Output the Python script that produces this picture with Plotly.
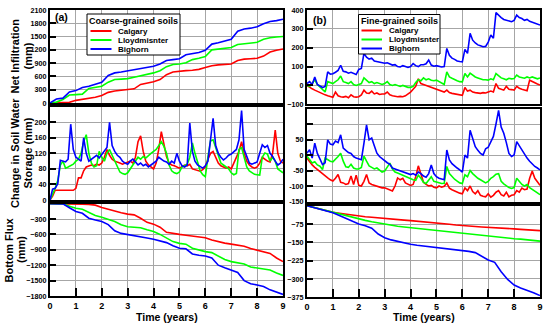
import plotly.graph_objects as go

W, H = 550, 325
FONT = "Arial, Liberation Sans, sans-serif"

# ---------------- data ----------------
series_names = ["Calgary", "Lloydmisnter", "Bighorn"]
series_colors = ["#ff0000", "#00ff00", "#0000ff"]

t10 = [round(i * 0.1, 1) for i in range(91)]     # sampling grid (years)
t25 = [i * 0.25 for i in range(37)]

# (a) Net infiltration, coarse-grained soils (mm)
tl_red = [0, 0, 5, 15, 60, 80, 100, 130, 170, 240, 270, 290, 300, 320, 420, 450, 480, 530, 640, 700,
          720, 730, 740, 760, 800, 840, 860, 870, 880, 960, 990, 1000, 1010, 1060, 1150, 1190, 1220]
tl_green = [0, 20, 80, 180, 190, 200, 330, 360, 380, 470, 530, 540, 550, 580, 610, 640, 680, 730, 820, 870,
            880, 910, 980, 1010, 1050, 1200, 1220, 1240, 1255, 1320, 1340, 1360, 1370, 1440, 1475, 1490, 1500]
tl_blue = [0, 90, 110, 250, 280, 350, 380, 430, 470, 620, 680, 700, 725, 750, 780, 800, 830, 880, 960, 980,
           1000, 1090, 1110, 1140, 1190, 1330, 1360, 1400, 1440, 1620, 1670, 1690, 1720, 1790, 1840, 1860, 1890]

# (b) Net infiltration, fine-grained soils (mm)
tr_red = [0, -10, -18, -25, -32, -38, -45, -50, -55, -60,
          -63, -35, -55, -60, -62, -58, -65, -50, -60, -62,
          -60, -50, -25, -40, -42, -30, -45, -40, -48, -45,
          -45, -35, -50, -55, -58, -60, -58, -60, -55, -45,
          -35, -20, -5, 35, 10, 5, 0, -5, -10, -15,
          -20, -25, -30, -35, -25, -38, -42, -45, -48, -50,
          -52, -11, -30, -25, -35, -38, -40, -42, -38, -40,
          -35, -30, -35, 10, -15, -20, -25, -5, -20, -22,
          -25, -5, -15, -20, -25, -28, 28, 20, 15, 8,
          2]
tr_green = [0, -5, 10, 30, 5, -10, -20, -35, 20, 15,
            10, 20, 30, 50, 20, 15, 10, 20, 5, 0,
            5, 10, 40, 25, 15, 20, 10, 15, 10, 5,
            10, 20, 5, 0, 5, 0, -5, 0, -5, -10,
            -10, -5, 15, 30, 25, 40, 30, 35, 28, 25,
            28, 20, 10, 5, 72, 45, 38, 30, 25, 20,
            19, 63, 45, 65, 55, 45, 40, 35, 30, 30,
            28, 35, 30, 63, 50, 40, 35, 30, 38, 35,
            37, 55, 45, 40, 38, 45, 40, 45, 38, 35,
            40]
tr_blue = [10, 20, 5, 45, 5, -5, -11, -5, 72, 60,
           62, 70, 80, 107, 75, 72, 65, 70, 62, 58,
           85, 90, 170, 150, 140, 145, 130, 128, 125, 120,
           118, 120, 112, 108, 110, 100, 98, 105, 100, 95,
           100, 116, 105, 100, 110, 110, 115, 135, 108, 102,
           105, 100, 98, 100, 196, 160, 145, 138, 130, 127,
           125, 191, 170, 276, 240, 225, 215, 210, 205, 207,
           230, 267, 250, 386, 370, 360, 350, 345, 340, 338,
           345, 373, 360, 355, 345, 350, 340, 335, 330, 325,
           320]

# Change in soil water storage, coarse (mm)
ml_red = [0, 10, 25, 25, 25, 25, 25, 25, 25, 25,
          30, 57, 57, 75, 85, 88, 90, 88, 92, 90,
          95, 110, 130, 115, 105, 100, 98, 95, 92, 95,
          98, 100, 95, 110, 150, 165, 125, 100, 90, 85,
          80, 95, 130, 176, 140, 112, 95, 90, 88, 84,
          82, 86, 90, 88, 92, 80, 78, 76, 74, 78,
          85, 105, 120, 125, 110, 95, 88, 85, 82, 85,
          80, 95, 110, 125, 150, 120, 100, 90, 85, 82,
          85, 95, 110, 105, 100, 98, 120, 180, 120, 100,
          95]
ml_green = [0, 15, 30, 50, 90, 100, 82, 85, 88, 92,
            100, 105, 120, 150, 168, 120, 95, 85, 88, 125,
            110, 100, 120, 130, 115, 100, 85, 72, 68, 66,
            70, 80, 88, 100, 110, 105, 112, 108, 115, 120,
            125, 130, 140, 150, 138, 120, 90, 75, 70, 68,
            72, 85, 88, 92, 110, 147, 120, 95, 75, 65,
            60, 110, 152, 155, 135, 110, 95, 90, 85, 80,
            70, 65, 68, 130, 135, 110, 85, 75, 70, 66,
            65, 64, 110, 121, 118, 100, 110, 100, 80, 74,
            70]
ml_blue = [0, 28, 30, 42, 102, 100, 98, 105, 195, 130,
           110, 105, 100, 160, 120, 100, 105, 110, 115, 108,
           118, 125, 135, 200, 140, 125, 115, 110, 100, 95,
           92, 100, 105, 98, 90, 95, 88, 92, 85, 90,
           95, 100, 110, 105, 100, 98, 92, 100, 95, 120,
           100, 88, 85, 90, 198, 125, 100, 90, 85, 82,
           88, 100, 155, 210, 140, 120, 110, 103, 108, 115,
           118, 125, 130, 155, 230, 130, 110, 95, 92, 95,
           98, 120, 142, 135, 140, 120, 112, 100, 90, 95,
           105]

# Change in soil water storage, fine (mm)
mr_red = [-10, -22, -32, -40, -47, -55, -62, -70, -74, -80,
          -84, -75, -63, -88, -90, -95, -92, -68, -95, -65,
          -98, -100, -85, -63, -90, -95, -98, -100, -104, -106,
          -106, -110, -113, -116, -100, -74, -80, -75, -90, -95,
          -98, -95, -70, -35, -60, -88, -95, -100, -98, -104,
          -106, -100, -104, -101, -90, -107, -112, -116, -120, -123,
          -125, -106, -115, -100, -118, -125, -115, -130, -133, -135,
          -125, -136, -130, -120, -115, -128, -132, -120, -135, -130,
          -128, -115, -120, -107, -112, -110, -75, -52, -75, -88,
          -98]
mr_green = [-4, -15, -26, -22, -32, -36, -47, -10, -15, -20,
            -22, -15, -5, 6, -20, -38, -40, -30, -42, -45,
            -45, -40, -4, -20, -35, -40, -45, -42, -50, -55,
            -52, -40, -26, -45, -55, -58, -62, -66, -70, -74,
            -78, -80, -82, -65, -75, -88, -92, -80, -70, -85,
            -88, -90, -92, -91, -37, -60, -70, -78, -84, -90,
            -92, -64, -70, -50, -60, -68, -75, -80, -86, -90,
            -85, -75, -70, -62, -60, -85, -93, -100, -105, -108,
            -105, -75, -85, -95, -100, -95, -105, -110, -115, -122,
            -128]
mr_blue = [6, 17, -10, 38, 5, -15, -31, -25, 49, 35,
           33, 45, 40, 65, 22, 15, 8, 5, -5, -10,
           -12, -15, 38, 97, 49, 55, 30, 6, -5, -12,
           -20, -25, -30, -42, -45, -48, -52, -55, -57, -60,
           -63, -60, -65, -55, -60, -68, -72, -60, -32, -60,
           -70, -75, -78, -80, 16, -16, -28, -36, -42, -48,
           -55, 0, -10, 80, 50, 27, 15, 5, 0, 20,
           25, 43, 60, 100, 144, 90, 70, 40, 5, -5,
           0, 43, 30, 15, 0, -10, -20, -30, -37, -42,
           -48]

# Bottom flux, coarse (mm)
bl_red = [0, 0, 0, -5, -8, -10, -15, -30, -75, -115, -150, -180, -205, -220, -285, -365, -400, -460, -560,
          -585, -600, -615, -630, -645, -665, -710, -745, -770, -790, -805, -830, -875, -905, -930, -970,
          -1060, -1130]
bl_green = [0, 0, -5, -50, -92, -110, -175, -230, -265, -300, -350, -410, -450, -460, -470, -510, -545, -600,
            -675, -740, -775, -790, -870, -910, -935, -955, -1030, -1090, -1130, -1150, -1175, -1235, -1260,
            -1275, -1295, -1350, -1400]
bl_blue = [0, 0, -5, -80, -155, -190, -285, -320, -350, -410, -530, -580, -600, -625, -645, -670, -695, -725,
           -760, -820, -870, -880, -980, -1005, -1020, -1060, -1200, -1250, -1290, -1340, -1500, -1560, -1585,
           -1615, -1680, -1730, -1770]

# Bottom flux, fine (mm)
br_red = [0, -7, -14, -21, -27, -31, -35, -39, -42, -45, -47, -50, -52, -54, -57, -59, -61, -63, -65, -67,
          -70, -73, -76, -79, -82, -84, -85, -87, -88, -90, -92, -93, -95, -97, -99, -100, -102]
br_green = [0, -7, -14, -21, -27, -35, -42, -48, -54, -60, -66, -71, -76, -80, -84, -87, -90, -93, -96, -99,
            -102, -105, -108, -110, -113, -116, -119, -121, -124, -127, -130, -132, -135, -137, -140, -142, -145]
br_blue = [0, -7, -14, -21, -29, -40, -52, -64, -75, -82, -92, -116, -131, -140, -147, -153, -158, -162, -165,
           -169, -172, -175, -178, -181, -184, -187, -192, -206, -222, -232, -270, -302, -325, -337, -345,
           -356, -368]

x_ticks = list(range(10))
tl_ticks = [0, 300, 600, 900, 1200, 1500, 1800, 2100]
ml_ticks = [0, 40, 80, 120, 160, 200]
bl_ticks = [-1800, -1500, -1200, -900, -600, -300]
tr_ticks = [-100, 0, 100, 200, 300, 400]
mr_ticks = [-150, -100, -50, 0, 50, 100]
mr_text = ["-150", "-100", "-50", "0", "50", ""]
br_ticks = [-375, -300, -225, -150, -75]

# ---------------- figure ----------------
def px_x(p):
    return p / W

def px_y(p):
    return 1 - p / H

panels = [
    ("x", "y", (50, 283), (10, 103), t25, [tl_red, tl_green, tl_blue], [0, 2100], tl_ticks, None, False),
    ("x2", "y2", (307, 540), (10, 104.3), t10, [tr_red, tr_green, tr_blue], [-100, 400], tr_ticks, None, False),
    ("x3", "y3", (50, 283), (106.7, 200), t10, [ml_red, ml_green, ml_blue], [0, 240], ml_ticks, None, False),
    ("x4", "y4", (307, 540), (108.5, 201.5), t10, [mr_red, mr_green, mr_blue], [-150, 150], mr_ticks, mr_text, False),
    ("x5", "y5", (50, 283), (203.6, 296), t25, [bl_red, bl_green, bl_blue], [-1800, 0], bl_ticks, None, True),
    ("x6", "y6", (307, 540), (205.7, 297.3), t25, [br_red, br_green, br_blue], [-375, 0], br_ticks, None, True),
]

fig = go.Figure()
layout = dict(
    width=W, height=H,
    margin=dict(l=0, r=0, t=0, b=0),
    paper_bgcolor="white", plot_bgcolor="white",
    showlegend=False,
    font=dict(family=FONT, color="black"),
    template="none",
)

for xa, ya, xp, yp, tt, sers, yr, tv, ttxt, bottom in panels:
    for vals, name, col in zip(sers, series_names, series_colors):
        fig.add_trace(go.Scatter(x=tt, y=vals, mode="lines", name=name,
                                 line=dict(color=col, width=1.6),
                                 xaxis=xa, yaxis=ya, showlegend=False))
    xkey = "xaxis" if xa == "x" else "xaxis" + xa[1:]
    ykey = "yaxis" if ya == "y" else "yaxis" + ya[1:]
    layout[xkey] = dict(
        domain=[px_x(xp[0]), px_x(xp[1])], anchor=ya, range=[0, 9],
        tickvals=x_ticks, showgrid=True, gridcolor="#a6a6a6", gridwidth=1,
        showline=True, linecolor="black", linewidth=2, mirror=True, zeroline=False,
        ticks="inside" if bottom else "", ticklen=8, tickwidth=2, tickcolor="black",
        showticklabels=bottom, automargin=False,
        tickfont=dict(family=FONT, size=9, color="black", weight="bold"),
    )
    yd = dict(
        domain=[px_y(yp[1]), px_y(yp[0])], anchor=xa, range=yr,
        tickvals=tv, showgrid=True, gridcolor="#a6a6a6", gridwidth=1,
        showline=True, linecolor="black", linewidth=2, mirror=True, zeroline=False,
        ticks="inside", ticklen=6, tickwidth=1.5, tickcolor="black", automargin=False,
        tickfont=dict(family=FONT, size=7.2, color="black", weight="bold"),
    )
    if ttxt is not None:
        yd["ticktext"] = ttxt
    layout[ykey] = yd

fig.update_layout(**layout)

ann = []
shapes = []
# y-axis titles: one annotation per line for exact placement
for txt, xc, yc in [("Net Infiltration", 14, 56.5), ("(mm)", 27, 56.5),
                    ("Change in Soil Water", 15, 153), ("Storage (mm)", 27.5, 153),
                    ("Bottom Flux", 8.5, 250), ("(mm)", 21, 250)]:
    ann.append(dict(text=txt, x=px_x(xc), y=px_y(yc), xref="paper", yref="paper",
                    xanchor="center", yanchor="middle", textangle=-90, showarrow=False,
                    font=dict(family=FONT, size=11, color="black", weight="bold")))
for xc in (166.5, 423.5):
    ann.append(dict(text="Time (years)", x=px_x(xc), y=px_y(317), xref="paper", yref="paper",
                    xanchor="center", yanchor="middle", showarrow=False,
                    font=dict(family=FONT, size=10.5, color="black", weight="bold")))
for txt, xc, yc in [("(a)", 53, 16.5), ("(b)", 311, 20)]:
    ann.append(dict(text=txt, x=px_x(xc), y=px_y(yc), xref="paper", yref="paper",
                    xanchor="left", yanchor="middle", showarrow=False,
                    font=dict(family=FONT, size=10.5, color="black", weight="bold")))

legends = [
    ("Coarse-grained soils", (87, 180, 14, 55), 21.5, (90.5, 111.5), 115.5, [31, 40, 49]),
    ("Fine-grained soils", (358.5, 440, 14.5, 54), 21.5, (361.5, 382), 386.5, [30.5, 39.5, 48.5]),
]
for title, box, ty, (lx0, lx1), tx, rows in legends:
    shapes.append(dict(type="rect", xref="paper", yref="paper",
                       x0=px_x(box[0]), x1=px_x(box[1]), y0=px_y(box[3]), y1=px_y(box[2]),
                       line=dict(color="black", width=1), fillcolor="white", layer="above"))
    ann.append(dict(text=title, x=px_x((box[0] + box[1]) / 2), y=px_y(ty), xref="paper", yref="paper",
                    xanchor="center", yanchor="middle", showarrow=False,
                    font=dict(family=FONT, size=9, color="black", weight="bold")))
    for ry, name, col in zip(rows, series_names, series_colors):
        shapes.append(dict(type="line", xref="paper", yref="paper",
                           x0=px_x(lx0), x1=px_x(lx1), y0=px_y(ry), y1=px_y(ry),
                           line=dict(color=col, width=2), layer="above"))
        ann.append(dict(text=name, x=px_x(tx), y=px_y(ry), xref="paper", yref="paper",
                        xanchor="left", yanchor="middle", showarrow=False,
                        font=dict(family=FONT, size=8, color="black", weight="bold")))

fig.update_layout(annotations=ann, shapes=shapes)
fig.write_html("out.html", config={"displayModeBar": False},
               post_script="document.body.style.margin='0';document.body.style.padding='0';")
